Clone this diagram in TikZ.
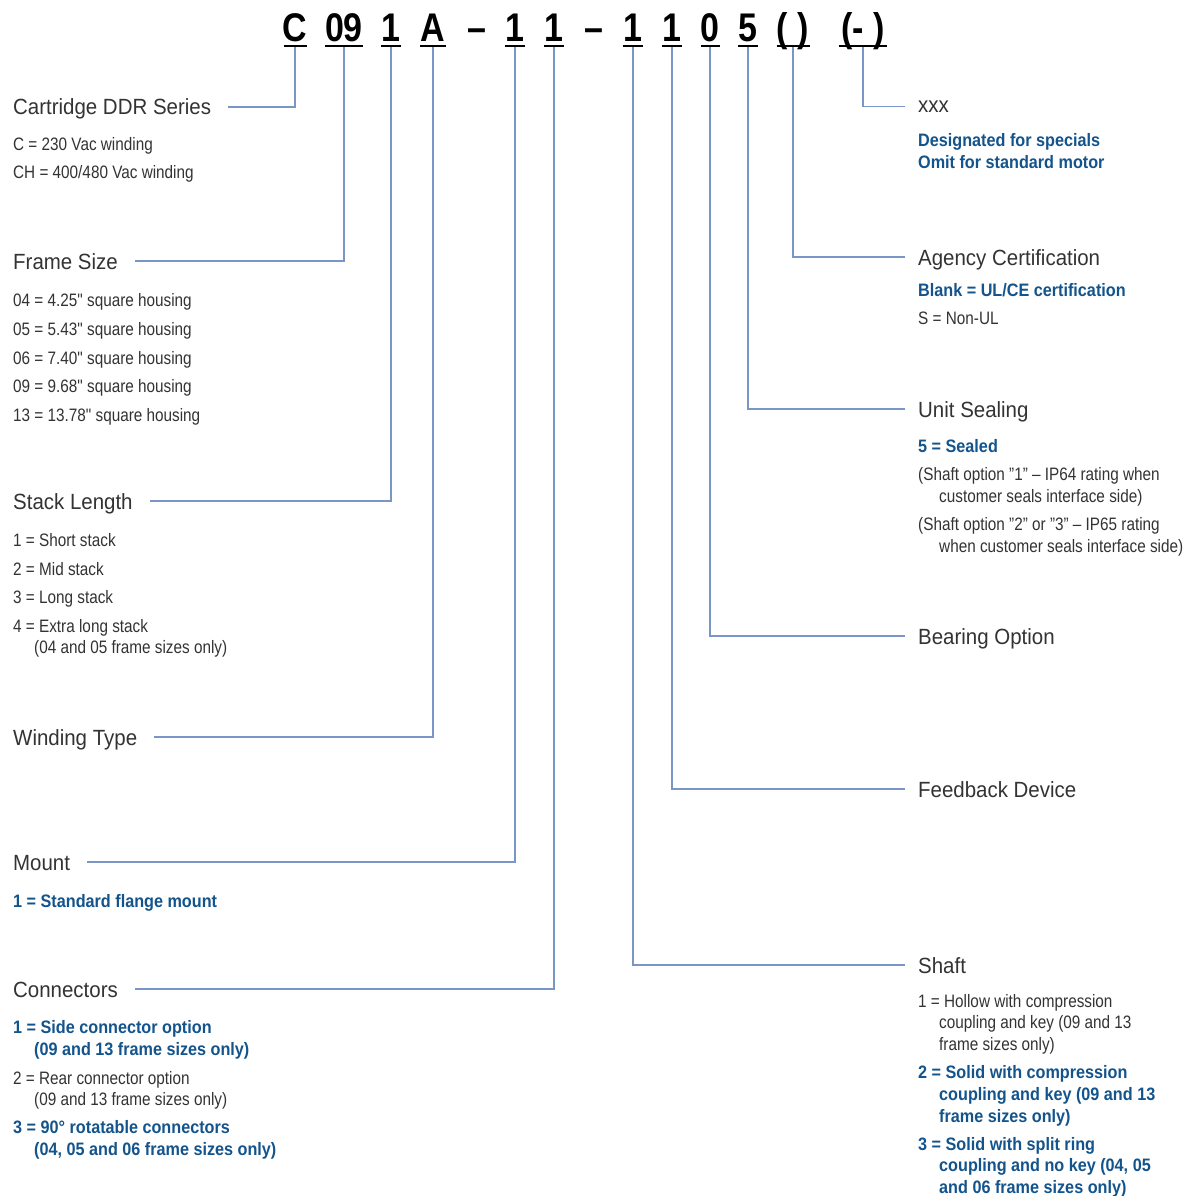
\documentclass[tikz,border=0pt]{standalone}
\usepackage{fontspec}
\setmainfont[FakeStretch=0.85]{Liberation Sans}
\newfontfamily\bodyfont[FakeStretch=0.85]{Liberation Sans}
\newfontfamily\headfont[FakeStretch=0.93]{Liberation Sans}
\newfontfamily\optfont[FakeStretch=0.9]{Liberation Sans}
\newfontfamily\codefont[FakeStretch=0.85]{Liberation Sans}
\usepackage{xcolor}
\definecolor{inkgray}{RGB}{51,51,51}
\definecolor{optblue}{RGB}{20,84,140}
\definecolor{linkblue}{RGB}{122,150,198}
\newcommand{\ind}{\hspace*{21pt}}

\begin{document}
\begin{tikzpicture}[x=1pt,y=-1pt,
  head/.style={font=\headfont\fontsize{22}{26}\selectfont,inkgray,inner sep=0pt,text height=16pt,text depth=0pt},
  opt/.style={font=\bodyfont\fontsize{18}{21.5}\selectfont,inkgray,inner sep=0pt,anchor=base west,align=left},
  optb/.style={opt,font=\optfont\bfseries\fontsize{18}{21.6}\selectfont,optblue},
  conn/.style={linkblue,line width=1.2pt},
  code/.style={font=\codefont\bfseries\fontsize{40}{44}\selectfont,inner sep=0pt,text depth=0pt,anchor=base}]
\useasboundingbox[fill=white] (0,0) rectangle (1195,1196);

% model number
\foreach \nm/\x/\w/\txt in {cC/295/23/C, c09/344/38/09, cStack/391/20/1, cWind/433/26/A,
    cMount/515/20/1, cConn/554/20/1, cShaft/633/20/1, cFeed/672/20/1, cBear/710/19/0,
    cSeal/748/20/5, cAgency/793/33/{( )}, cSpecial/863/48/{(- )}}
  {\node[code] (\nm) at (\x,42) {\txt};
   \draw[line width=2.4pt] ([xshift={-\w*0.5pt},yshift=-4pt]\nm.south) -- ([xshift={\w*0.5pt},yshift=-4pt]\nm.south);}
\node[code] (dash1) at (477,42) {–};
\node[code] (dash2) at (594,42) {–};

% left column (multi-line nodes sit on their last baseline)
\node[head,anchor=west] (tSeries) at (13,107) {Cartridge DDR Series};
\node[opt] (sC) at (13,150.5) {C = 230 Vac winding};
\node[opt] (sCH) at (13,178.5) {CH = 400/480 Vac winding};

\node[head,anchor=west] (tFrame) at (13,261) {Frame Size};
\node[opt] (f04) at (13,306.5) {04 = 4.25" square housing};
\node[opt] (f05) at (13,335.3) {05 = 5.43" square housing};
\node[opt] (f06) at (13,364.1) {06 = 7.40" square housing};
\node[opt] (f09) at (13,392.9) {09 = 9.68" square housing};
\node[opt] (f13) at (13,421.7) {13 = 13.78" square housing};

\node[head,anchor=west] (tStack) at (13,501) {Stack Length};
\node[opt] (s1) at (13,546.5) {1 = Short stack};
\node[opt] (s2) at (13,575) {2 = Mid stack};
\node[opt] (s3) at (13,603.5) {3 = Long stack};
\node[opt] (s4) at (13,653.5) {4 = Extra long stack\\\ind(04 and 05 frame sizes only)};

\node[head,anchor=west] (tWind) at (13,737) {Winding Type};

\node[head,anchor=west] (tMount) at (13,862) {Mount};
\node[optb] (m1) at (13,907.5) {1 = Standard flange mount};

\node[head,anchor=west] (tConn) at (13,989) {Connectors};
\node[optb] (k1) at (13,1055) {1 = Side connector option\\\ind(09 and 13 frame sizes only)};
\node[opt] (k2) at (13,1105.5) {2 = Rear connector option\\\ind(09 and 13 frame sizes only)};
\node[optb] (k3) at (13,1155.5) {3 = 90° rotatable connectors\\\ind(04, 05 and 06 frame sizes only)};

% right column
\node[opt,font=\headfont\fontsize{22}{26}\selectfont] (tSpecial) at (918,112.5) {xxx};
\node[optb] (x1) at (918,168.3) {Designated for specials\\Omit for standard motor};

\node[head,anchor=west] (tAgency) at (918,257) {Agency Certification};
\node[optb] (a1) at (918,296.3) {Blank = UL/CE certification};
\node[opt] (a2) at (918,324.3) {S = Non-UL};

\node[head,anchor=west] (tSeal) at (918,409) {Unit Sealing};
\node[optb] (u1) at (918,452.7) {5 = Sealed};
\node[opt] (u2) at (918,502.2) {(Shaft option ”1” – IP64 rating when\\\ind customer seals interface side)};
\node[opt] (u3) at (918,552.2) {(Shaft option ”2” or ”3” – IP65 rating\\\ind when customer seals interface side)};

\node[head,anchor=west] (tBear) at (918,636) {Bearing Option};
\node[head,anchor=west] (tFeed) at (918,789) {Feedback Device};

\node[head,anchor=west] (tShaft) at (918,965) {Shaft};
\node[opt] (h1) at (918,1050) {1 = Hollow with compression\\\ind coupling and key (09 and 13\\\ind frame sizes only)};
\node[optb] (h2) at (918,1122) {2 = Solid with compression\\\ind coupling and key (09 and 13\\\ind frame sizes only)};
\node[optb] (h3) at (918,1193.5) {3 = Solid with split ring\\\ind coupling and no key (04, 05\\\ind and 06 frame sizes only)};

% connectors
\draw[conn] ([yshift=-5pt]cC.south) |- ([xshift=17pt]tSeries.east);
\draw[conn] ([yshift=-5pt]c09.south) |- ([xshift=17pt]tFrame.east);
\draw[conn] ([yshift=-5pt]cStack.south) |- ([xshift=17pt]tStack.east);
\draw[conn] ([yshift=-5pt]cWind.south) |- ([xshift=17pt]tWind.east);
\draw[conn] ([yshift=-5pt]cMount.south) |- ([xshift=17pt]tMount.east);
\draw[conn] ([yshift=-5pt]cConn.south) |- ([xshift=17pt]tConn.east);
\draw[conn] ([yshift=-5pt]cShaft.south) |- ([xshift=-13pt]tShaft.west);
\draw[conn] ([yshift=-5pt]cFeed.south) |- ([xshift=-13pt]tFeed.west);
\draw[conn] ([yshift=-5pt]cBear.south) |- ([xshift=-13pt]tBear.west);
\draw[conn] ([yshift=-5pt]cSeal.south) |- ([xshift=-13pt]tSeal.west);
\draw[conn] ([yshift=-5pt]cAgency.south) |- ([xshift=-13pt]tAgency.west);
\draw[conn] ([yshift=-5pt]cSpecial.south) |- ([xshift=-13pt]tSpecial.west);
\end{tikzpicture}
\end{document}
